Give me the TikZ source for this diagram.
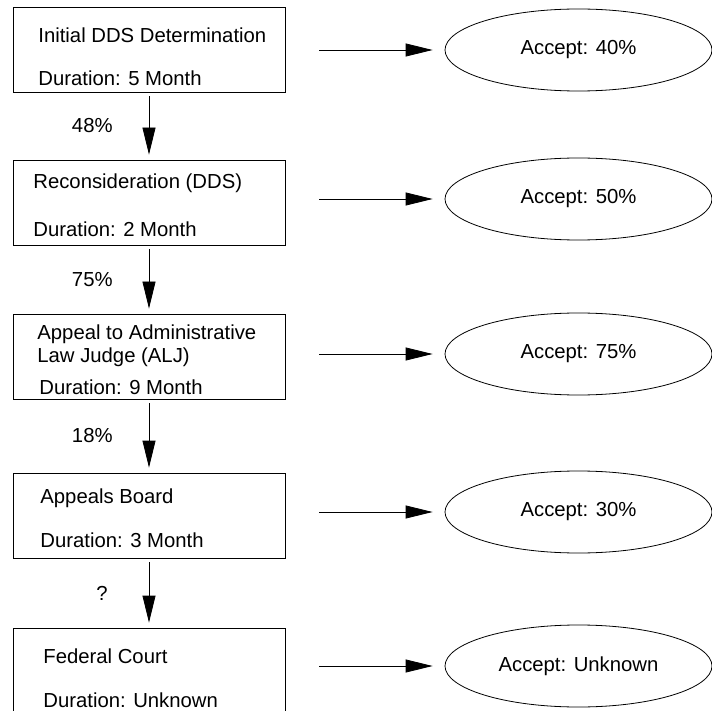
\documentclass[tikz,border=0pt]{standalone}
\usepackage{fontspec}
\setmainfont{Liberation Sans}
\usetikzlibrary{arrows.meta, shapes.geometric, positioning}

\begin{document}
\begin{tikzpicture}[
    x = 1pt, y = -1pt, line width = 0.8pt,
    every node/.style = {font = \fontsize{20.3}{24}\selectfont},
    stage/.style = {draw, rectangle, minimum width = 272pt, minimum height = 85pt},
    txt/.style = {anchor = base west, inner sep = 0pt},
    accept/.style = {draw, ellipse, minimum width = 267pt, minimum height = 82pt, inner sep = 0pt},
    flow/.style = {-{Triangle[length = 27pt, width = 13pt]}},
    rate/.style = {midway, left = 36pt, inner sep = 0pt}
  ]
  \useasboundingbox (0,0) rectangle (712,711);

  % stages of the appeal
  \node[stage] (init)  at (149, 49.5)  {};
  \node[stage] (recon) at (149, 202.5) {};
  \node[stage] (alj)   at (149, 356.5) {};
  \node[stage] (board) at (149, 515.5) {};
  \node[stage] (court) at (149, 670.5) {};

  \node[txt] (init-a)  at (38, 43)  {Initial DDS Determination};
  \node[txt] (init-b)  at (38, 86)  {Duration: 5 Month};
  \node[txt] (recon-a) at (33, 189) {Reconsideration (DDS)};
  \node[txt] (recon-b) at (33, 237) {Duration: 2 Month};
  \node[txt] (alj-a)   at (37, 339) {Appeal to Administrative};
  \node[txt] (alj-b)   at (37, 362) {Law Judge (ALJ)};
  \node[txt] (alj-c)   at (39, 394) {Duration: 9 Month};
  \node[txt] (board-a) at (40, 503) {Appeals Board};
  \node[txt] (board-b) at (40, 547) {Duration: 3 Month};
  \node[txt] (court-a) at (43, 663) {Federal Court};
  \node[txt] (court-b) at (43, 707) {Duration: Unknown};

  % outcomes
  \node[accept] (acc1) at (578.5, 50)  {Accept: 40\%};
  \node[accept] (acc2) at (578.5, 199) {Accept: 50\%};
  \node[accept] (acc3) at (578.5, 354) {Accept: 75\%};
  \node[accept] (acc4) at (578.5, 512) {Accept: 30\%};
  \node[accept] (acc5) at (578.5, 666) {Accept: Unknown};

  \begin{scope}[flow, shorten <= 34pt, shorten >= 12pt]
    \draw (init.east  |- acc1) -- (acc1);
    \draw (recon.east |- acc2) -- (acc2);
    \draw (alj.east   |- acc3) -- (acc3);
    \draw (board.east |- acc4) -- (acc4);
    \draw (court.east |- acc5) -- (acc5);
  \end{scope}

  \begin{scope}[flow, shorten <= 4pt, shorten >= 5pt]
    \draw (init)  -- (recon) node[rate] {48\%};
    \draw (recon) -- (alj)   node[rate] {75\%};
    \draw (alj)   -- (board) node[rate] {18\%};
    \draw (board) -- (court) node[rate, left = 41pt] {?};
  \end{scope}
\end{tikzpicture}
\end{document}
